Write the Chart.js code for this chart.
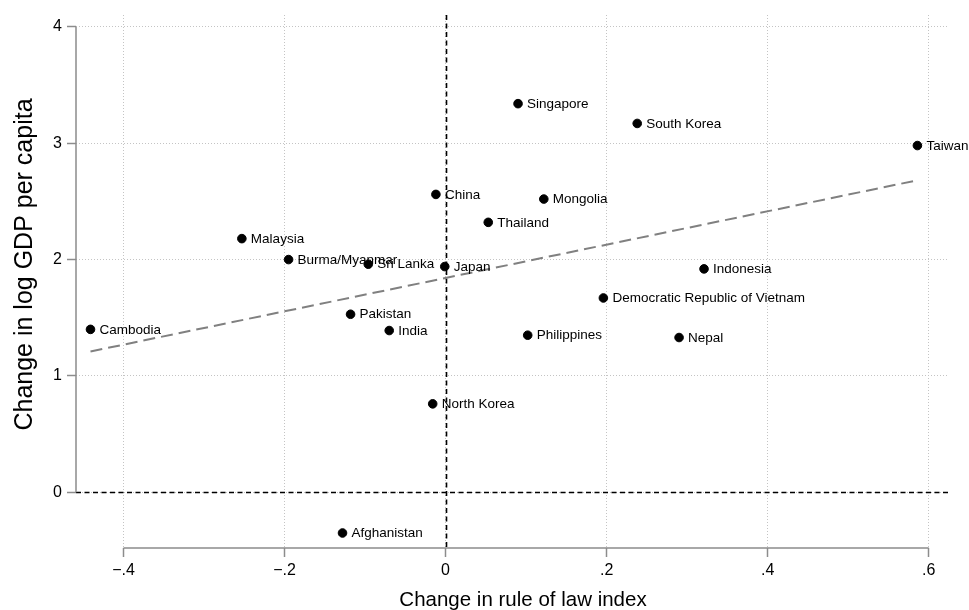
<!DOCTYPE html>
<html>
<head>
<meta charset="utf-8">
<title>Rule of law vs GDP per capita</title>
<script src="https://cdn.jsdelivr.net/npm/chart.js@4/dist/chart.umd.min.js"></script>
<style>
  html, body { margin: 0; padding: 0; background: #fff; }
  #wrap { width: 969px; height: 610px; position: relative; }
</style>
</head>
<body>
<div id="wrap"><canvas id="chart"></canvas></div>
<script>
/* ---------- datos ---------- */
const countries = [
  'Singapore', 'South Korea', 'Taiwan', 'China', 'Mongolia', 'Thailand',
  'Malaysia', 'Burma/Myanmar', 'Sri Lanka', 'Japan', 'Indonesia',
  'Democratic Republic of Vietnam', 'Cambodia', 'Pakistan', 'India',
  'Philippines', 'Nepal', 'North Korea', 'Afghanistan',
];
const ruleChange = [
  0.090, 0.238, 0.586, -0.012, 0.122, 0.053,
  -0.253, -0.195, -0.096, -0.001, 0.321,
  0.196, -0.441, -0.118, -0.070,
  0.102, 0.290, -0.016, -0.128,
];
const gdpChange = [
  3.34, 3.17, 2.98, 2.56, 2.52, 2.32,
  2.18, 2.00, 1.96, 1.94, 1.92,
  1.67, 1.40, 1.53, 1.39,
  1.35, 1.33, 0.76, -0.35,
];

// recta ajustada (extremos)
const fitX = [-0.441, 0.585];
const fitY = [1.21, 2.68];

const xTicks = [-0.4, -0.2, 0, 0.2, 0.4, 0.6];
const yTicks = [0, 1, 2, 3, 4];

const xTitle = 'Change in rule of law index';
const yTitle = 'Change in log GDP per capita';

const FONT = "'Liberation Sans', Arial, Helvetica, sans-serif";

/* ---------- helpers ---------- */
function fmtTick(v) {
  if (Math.abs(v) < 1e-9) return '0';
  const s = String(Math.abs(+v.toFixed(1))).replace(/^0/, '');
  return (v < 0 ? '\u2212' : '') + s;
}

/* líneas de referencia en 0 (debajo de los puntos) */
const zeroLines = {
  id: 'zeroLines',
  beforeDatasetsDraw(chart) {
    const { ctx, chartArea: a, scales: { x, y } } = chart;
    ctx.save();
    ctx.strokeStyle = '#000';
    ctx.lineWidth = 1.6;
    ctx.setLineDash([5, 3.5]);
    const px = Math.round(x.getPixelForValue(0)) + 0.5;
    const py = Math.round(y.getPixelForValue(0)) + 0.5;
    ctx.beginPath();
    ctx.moveTo(px, a.top);
    ctx.lineTo(px, a.bottom);
    ctx.moveTo(a.left, py);
    ctx.lineTo(a.right, py);
    ctx.stroke();
    ctx.restore();
  },
};

/* ejes estilo Stata: sólo entre el primer y último tick, y títulos */
const axisLines = {
  id: 'axisLines',
  afterDraw(chart) {
    const { ctx, chartArea: a, scales: { x, y } } = chart;
    ctx.save();
    ctx.strokeStyle = '#8c8c8c';
    ctx.lineWidth = 1.5;
    ctx.beginPath();
    ctx.moveTo(a.left, y.getPixelForValue(yTicks[0]));
    ctx.lineTo(a.left, y.getPixelForValue(yTicks[yTicks.length - 1]));
    ctx.moveTo(x.getPixelForValue(xTicks[0]), a.bottom);
    ctx.lineTo(x.getPixelForValue(xTicks[xTicks.length - 1]), a.bottom);
    ctx.stroke();

    // títulos de los ejes
    ctx.fillStyle = '#000';
    ctx.textAlign = 'center';
    ctx.textBaseline = 'alphabetic';
    ctx.font = '20.5px ' + FONT;
    ctx.fillText(xTitle, (a.left + a.right) / 2 + 11, a.bottom + 58);

    ctx.translate(32, (a.top + a.bottom) / 2 - 17);
    ctx.rotate(-Math.PI / 2);
    ctx.font = '25px ' + FONT;
    ctx.fillText(yTitle, 0, 0);
    ctx.restore();
  },
};

/* etiquetas de países a la derecha de cada punto */
const pointLabels = {
  id: 'pointLabels',
  afterDatasetsDraw(chart) {
    const { ctx } = chart;
    const meta = chart.getDatasetMeta(1);
    ctx.save();
    ctx.font = '13.5px ' + FONT;
    ctx.fillStyle = '#000';
    ctx.textAlign = 'left';
    ctx.textBaseline = 'middle';
    meta.data.forEach((pt, i) => {
      ctx.fillText(countries[i], pt.x + 9, pt.y + 0.5);
    });
    ctx.restore();
  },
};

/* ---------- gráfico ---------- */
const scatterData = ruleChange.map((v, i) => ({ x: v, y: gdpChange[i] }));
const fitData = fitX.map((v, i) => ({ x: v, y: fitY[i] }));

const gridOpts = {
  color: '#c4c4c4',
  lineWidth: 1,
  tickLength: 9,
  tickColor: '#8c8c8c',
  tickWidth: 1.5,
};

new Chart(document.getElementById('chart').getContext('2d'), {
  type: 'scatter',
  data: {
    datasets: [
      {
        label: 'Fitted values',
        data: fitData,
        showLine: true,
        borderColor: '#808080',
        borderWidth: 2,
        borderDash: [12, 6],
        pointRadius: 0,
        fill: false,
      },
      {
        label: 'Countries',
        data: scatterData,
        backgroundColor: '#000',
        borderColor: '#000',
        pointRadius: 4.3,
        pointHoverRadius: 4.3,
      },
    ],
  },
  options: {
    responsive: true,
    maintainAspectRatio: false,
    animation: false,
    layout: { padding: { top: 15, right: 21, left: 0, bottom: 0 } },
    plugins: {
      legend: { display: false },
      tooltip: { enabled: false },
    },
    scales: {
      x: {
        type: 'linear',
        position: 'bottom',
        min: -0.459,
        max: 0.624,
        afterBuildTicks: s => { s.ticks = xTicks.map(v => ({ value: v })); },
        afterFit: s => { s.height = 62; },
        grid: gridOpts,
        border: { display: false, dash: [1, 2] },
        ticks: {
          padding: 4,
          color: '#000',
          font: { family: FONT, size: 16 },
          maxRotation: 0,
          callback: v => fmtTick(v),
        },
      },
      y: {
        type: 'linear',
        min: -0.479,
        max: 4.102,
        afterBuildTicks: s => { s.ticks = yTicks.map(v => ({ value: v })); },
        afterFit: s => { s.width = 76; },
        grid: gridOpts,
        border: { display: false, dash: [1, 2] },
        ticks: {
          padding: 5,
          color: '#000',
          font: { family: FONT, size: 16 },
          callback: v => fmtTick(v),
        },
      },
    },
  },
  plugins: [zeroLines, axisLines, pointLabels],
});
</script>
</body>
</html>
